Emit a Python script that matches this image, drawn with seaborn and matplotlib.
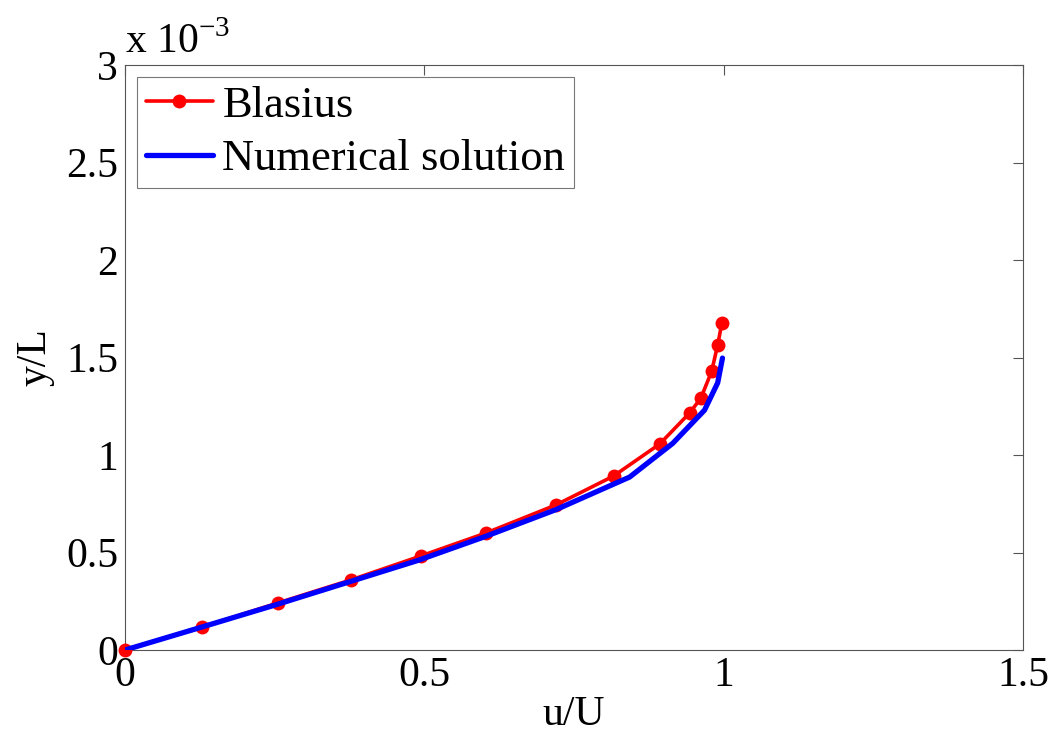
import matplotlib
matplotlib.use("Agg")
import matplotlib.pyplot as plt
import seaborn as sns
import pandas as pd

blasius_u = [0.0, 0.129, 0.255, 0.377, 0.494, 0.603, 0.720, 0.816, 0.893, 0.943, 0.962, 0.980, 0.990, 0.997]
blasius_y = [0.0, 0.118, 0.241, 0.359, 0.482, 0.600, 0.744, 0.892, 1.056, 1.215, 1.292, 1.430, 1.564, 1.677]
numer_u = [0.0, 0.12, 0.25, 0.37, 0.49, 0.60, 0.72, 0.843, 0.915, 0.968, 0.990, 0.998]
numer_y = [0.0, 0.11, 0.23, 0.345, 0.46, 0.58, 0.72, 0.887, 1.06, 1.23, 1.37, 1.497]
x_ticks = [0, 0.5, 1, 1.5]
y_ticks = [0, 0.5, 1, 1.5, 2, 2.5, 3]

sns.set_style("white")
plt.rcParams['font.family'] = ['Liberation Serif', 'DejaVu Serif']
plt.rcParams['mathtext.fontset'] = 'custom'
plt.rcParams['mathtext.rm'] = 'Liberation Serif'
plt.rcParams['text.color'] = 'black'
plt.rcParams['axes.labelcolor'] = 'black'
plt.rcParams['xtick.color'] = 'black'
plt.rcParams['ytick.color'] = 'black'

df_b = pd.DataFrame({"u": blasius_u, "y": blasius_y})
df_n = pd.DataFrame({"u": numer_u, "y": numer_y})

fig = plt.figure(figsize=(10.51, 7.45), dpi=100)
ax = fig.add_axes([125/1051, 1 - 650/745, (1023-125)/1051, (650-65)/745])

sns.lineplot(data=df_b, x="u", y="y", sort=False, ax=ax, color="#ff0000",
             linewidth=2.6, marker="o", markersize=10, markeredgewidth=0,
             label="Blasius", clip_on=False, zorder=3)
sns.lineplot(data=df_n, x="u", y="y", sort=False, ax=ax, color="#0000ff",
             linewidth=3.8, label="Numerical solution", zorder=4)

ax.set_xlim(0, 1.5)
ax.set_ylim(0, 3)
ax.set_xticks(x_ticks)
ax.set_xticklabels(["0", "0.5", "1", "1.5"])
ax.set_yticks(y_ticks)
ax.set_yticklabels(["0", "0.5", "1", "1.5", "2", "2.5", "3"])
ax.tick_params(direction="in", length=7, width=0.8,
               top=True, right=True, labelsize=30, pad=5,
               colors="black")
ax.tick_params(color="#555555")
for s in ax.spines.values():
    s.set_color("#555555")
    s.set_linewidth(0.8)

ax.set_xlabel("u/U", fontsize=30, labelpad=0)
ax.set_ylabel("y/L", fontsize=30, labelpad=8)
ax.text(0.0, 1.005, r"x 10$^{\mathregular{-3}}$", transform=ax.transAxes,
        fontsize=30, ha="left", va="bottom")

leg = ax.legend(loc="upper left", fontsize=32, frameon=True, fancybox=False,
                borderaxespad=0.27, handlelength=1.5, handletextpad=0.22,
                borderpad=0.2, labelspacing=0.3)
leg.get_frame().set_edgecolor("#555555")
leg.get_frame().set_linewidth(0.8)
leg.set_zorder(10)

fig.savefig("out.png", dpi=100, facecolor="white")
